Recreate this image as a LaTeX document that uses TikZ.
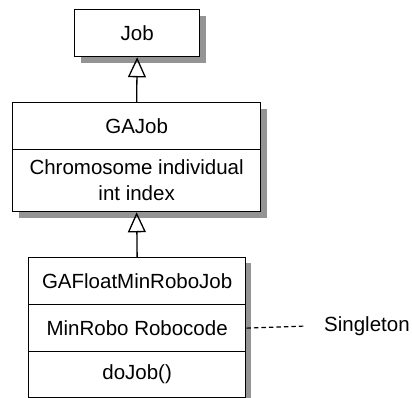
\documentclass[tikz,border=0pt]{standalone}
\usepackage{fontspec}
\setmainfont{Liberation Sans}
\usetikzlibrary{arrows.meta}
\begin{document}
\begin{tikzpicture}[x=1pt,y=-1pt,
  box/.style={draw=black, line width=1.3pt, fill=white, inner sep=0pt, anchor=north west,
    font=\fontsize{20.5}{26}\selectfont, align=center},
  shadowbox/.style={fill=black!42, draw=none},
  inherit/.style={draw=black, line width=1.3pt, -{Triangle[open, length=20pt, width=18pt, line width=1.3pt]}},
  note/.style={draw=black, line width=1.2pt, dash pattern=on 4.5pt off 3pt},
]
\useasboundingbox (0,0) rectangle (412,398);
% shadows
\fill[shadowbox] (81,16) rectangle (206,63);
\fill[shadowbox] (19,109) rectangle (267,218);
\fill[shadowbox] (34,263) rectangle (251,404);
% Job
\node[box, minimum width=125pt, minimum height=47pt] (job) at (74,9) {Job};
% GAJob
\node[box, minimum width=248pt, minimum height=47pt] (gajob) at (12,102) {GAJob};
\node[box, minimum width=248pt, minimum height=62pt] (gajobattr) at (12,149) {Chromosome individual\\int index};
% GAFloatMinRoboJob
\node[box, minimum width=217pt, minimum height=47pt] (gaf) at (28,257) {GAFloatMinRoboJob};
\node[box, minimum width=217pt, minimum height=47pt] (gafattr) at (28,304) {MinRobo Robocode};
\node[box, minimum width=217pt, minimum height=46pt] (gafop) at (28,351) {doJob()};
% inheritance
\draw[inherit] (gajob.north) -- (job.south);
\draw[inherit] (gaf.north) -- (gajobattr.south);
% note
\coordinate (noteend) at (306,326);
\draw[note] (gafattr.east) -- (noteend);
\node[anchor=west, inner sep=0pt, font=\fontsize{20.5}{24}\selectfont] (single) at (324,326) {Singleton};
\end{tikzpicture}
\end{document}
